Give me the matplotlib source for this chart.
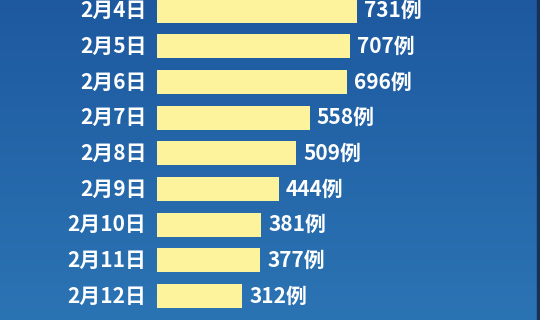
import numpy as np
import matplotlib
matplotlib.use("Agg")
import matplotlib.pyplot as plt
from matplotlib.colors import LinearSegmentedColormap

plt.rcParams['font.family'] = ['Noto Sans CJK SC', 'DejaVu Sans']

dates = ["2月4日", "2月5日", "2月6日", "2月7日", "2月8日",
         "2月9日", "2月10日", "2月11日", "2月12日", "2月13日"]
cases = [731, 707, 696, 558, 509, 444, 381, 377, 312, 267]

BAR_COLOR = "#fdf39c"
BG_TOP = "#1e599f"
BG_BOTTOM = "#2b74b4"

W, H = 540, 320
PX_PER_UNIT = 0.273   # bar length in pixels per case
BAR_X0 = 157.3        # left edge of bars, px
ROW0 = 10.7           # centre of first row, px
PITCH = 35.66         # row spacing, px

fig = plt.figure(figsize=(W / 100, H / 100), dpi=100)

# background gradient
bg = fig.add_axes([0, 0, 1, 1])
bg.set_axis_off()
grad = np.linspace(0, 1, 256).reshape(-1, 1)
cmap = LinearSegmentedColormap.from_list("bg", [BG_TOP, BG_BOTTOM])
bg.imshow(grad, cmap=cmap, aspect="auto", extent=[0, 1, 0, 1], origin="upper")
bg.axvspan(0.994, 1.0, color="#17305a")
bg.set_xlim(0, 1)
bg.set_ylim(0, 1)

ax = fig.add_axes([0, 0, 1, 1])
ax.set_facecolor("none")
ax.set_axis_off()

y = np.arange(len(dates))
ax.barh(y, cases, height=0.673, color=BAR_COLOR, left=0)

y_bottom = (H - ROW0) / PITCH
for yi, d, v in zip(y, dates, cases):
    if yi > y_bottom:
        continue  # row centre below the visible area, labels not shown
    ax.text(-11 / PX_PER_UNIT, yi, d, ha="right", va="center",
            color="white", fontsize=15, fontweight="bold")
    ax.text(v + 7 / PX_PER_UNIT, yi, f"{v}例", ha="left", va="center",
            color="white", fontsize=15, fontweight="bold")

ax.set_xlim(-BAR_X0 / PX_PER_UNIT, (W - BAR_X0) / PX_PER_UNIT)
ax.set_ylim(y_bottom, -ROW0 / PITCH)

fig.savefig("out.png", dpi=100)
